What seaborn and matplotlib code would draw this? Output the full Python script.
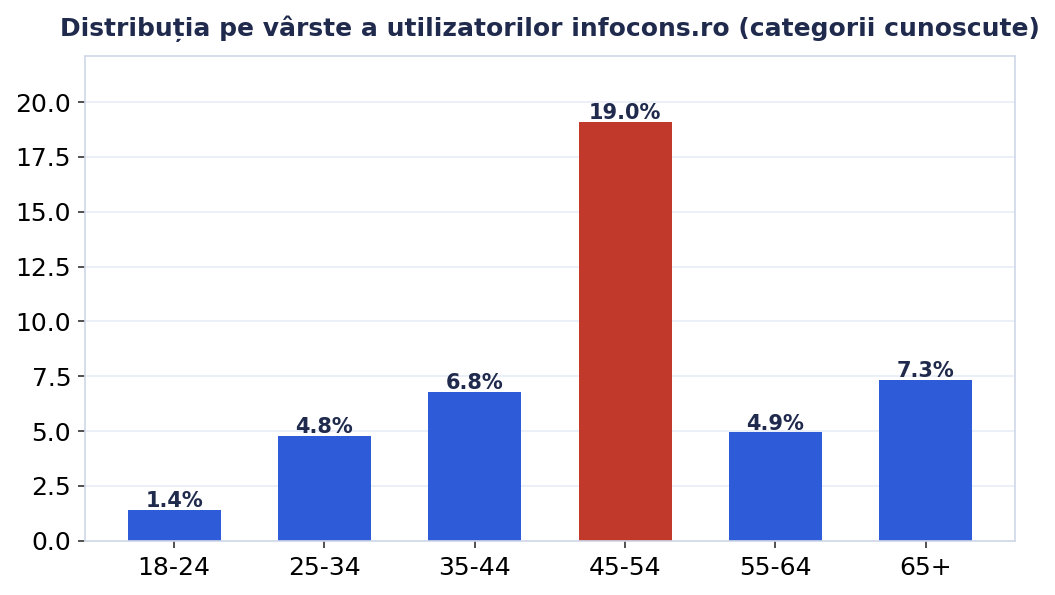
import pandas as pd
import seaborn as sns
import matplotlib.pyplot as plt

# Date
categorii = ["18-24", "25-34", "35-44", "45-54", "55-64", "65+"]
procente = [1.42, 4.77, 6.77, 19.1, 4.94, 7.32]
etichete = ["1.4%", "4.8%", "6.8%", "19.0%", "4.9%", "7.3%"]
culori = ["#2E5BD8", "#2E5BD8", "#2E5BD8", "#C0392B", "#2E5BD8", "#2E5BD8"]

df = pd.DataFrame({"Categorie": categorii, "Procent": procente})

sns.set_style("white")
plt.rcParams["font.family"] = ["DejaVu Sans"]

fig, ax = plt.subplots(figsize=(10.55, 5.95), dpi=100)
fig.subplots_adjust(left=0.0806, right=0.962, top=0.906, bottom=0.091)

sns.barplot(data=df, x="Categorie", y="Procent", hue="Categorie",
            palette=culori, width=0.62, legend=False, ax=ax, saturation=1,
            linewidth=0)

for i, (v, txt) in enumerate(zip(procente, etichete)):
    ax.text(i, v - 0.05, txt, ha="center", va="bottom", fontsize=15,
            fontweight="bold", color="#1F2A4D")

ax.set_xlim(-0.593, 5.593)
ax.set_ylim(0, 22.1)
ax.set_yticks([0, 2.5, 5, 7.5, 10, 12.5, 15, 17.5, 20])
ax.set_yticklabels([f"{t:.1f}" for t in ax.get_yticks()])
ax.yaxis.grid(True, color="#E8ECF6", linewidth=1.2)
ax.set_axisbelow(True)
ax.set_xlabel("")
ax.set_ylabel("")
ax.tick_params(axis="both", labelsize=18, length=5, width=1.2, color="#333333",
               labelcolor="black", bottom=True, left=True)
ax.tick_params(axis="x", pad=6)
ax.tick_params(axis="y", pad=5)
for s in ax.spines.values():
    s.set_color("#D0D8E8")
    s.set_linewidth(1.2)

ax.set_title("Distribuția pe vârste a utilizatorilor infocons.ro (categorii cunoscute)",
             fontsize=18, fontweight="bold", color="#1F2A4D", pad=14)

plt.savefig("out.png", dpi=100)
plt.close()
